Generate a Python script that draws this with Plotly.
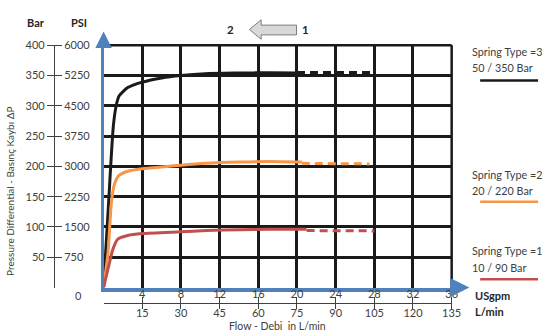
import plotly.graph_objects as go

# ---------------- data ----------------
bar_ticks = [50, 100, 150, 200, 250, 300, 350, 400]
psi_ticks = ["750", "1500", "2250", "3000", "3750", "4500", "5250", "6000"]
gpm_ticks = [4, 8, 12, 16, 20, 24, 28, 32, 36]
lmin_ticks = [15, 30, 45, 60, 75, 90, 105, 120, 135]

# Spring type 3 (50 / 350 bar) - black
s3_flow = [0, 0.5, 1.0, 1.3, 1.6, 2.5, 4, 6, 8, 10.5, 14, 17, 20]
s3_bar = [0, 135, 265, 300, 316, 330, 339, 346, 350, 353, 354, 354.5, 354]
s3_flow_d = [20, 24, 28]
s3_bar_d = [355, 355.5, 355]

# Spring type 2 (20 / 220 bar) - orange
s2_flow = [0, 0.46, 0.8, 1.13, 1.6, 2.5, 4, 8, 10.6, 14, 17, 20.5]
s2_bar = [0, 58, 139, 171, 185, 192, 196, 202, 205, 207, 208, 207]
s2_flow_d = [20.5, 24, 27.5]
s2_bar_d = [205, 204.5, 204]

# Spring type 1 (10 / 90 bar) - red
s1_flow = [0, 0.46, 0.96, 1.47, 2.5, 4, 8, 10.6, 14, 17, 21]
s1_bar = [0, 31, 63, 80, 86, 89, 92, 94, 95.5, 96, 96]
s1_flow_d = [21, 24.5, 28]
s1_bar_d = [94, 93.5, 93.5]

BLACK = "#1a1a1a"
ORANGE = "#f79646"
RED = "#c0504d"
BLUE = "#4f81bd"
TXT = "#404040"
FONT = "Lato"

W, H = 552, 336
def px(x):
    return x / W
def py(y):
    return 1 - y / H

fig = go.Figure()

for fx, fy, col in [(s3_flow, s3_bar, BLACK), (s2_flow, s2_bar, ORANGE), (s1_flow, s1_bar, RED)]:
    fig.add_trace(go.Scatter(x=fx, y=fy, mode="lines", line=dict(color=col, width=3, shape="spline", smoothing=0.6),
                             showlegend=False, hoverinfo="skip"))
for fx, fy, col in [(s3_flow_d, s3_bar_d, BLACK), (s2_flow_d, s2_bar_d, ORANGE), (s1_flow_d, s1_bar_d, RED)]:
    fig.add_trace(go.Scatter(x=fx, y=fy, mode="lines", line=dict(color=col, width=3, dash="8px,5px"),
                             showlegend=False, hoverinfo="skip"))

# dummy traces to activate secondary axes
fig.add_trace(go.Scatter(x=[None], y=[None], xaxis="x", yaxis="y2", showlegend=False, hoverinfo="skip"))
fig.add_trace(go.Scatter(x=[None], y=[None], xaxis="x", yaxis="y3", showlegend=False, hoverinfo="skip"))
fig.add_trace(go.Scatter(x=[None], y=[None], xaxis="x2", yaxis="y", showlegend=False, hoverinfo="skip"))
fig.add_trace(go.Scatter(x=[None], y=[None], xaxis="x3", yaxis="y", showlegend=False, hoverinfo="skip"))

xdom = [px(105.5), px(460)]
ydom = [py(286.5), py(39)]
tickfont = dict(family=FONT, size=11, color=TXT)

fig.update_layout(
    width=W, height=H, margin=dict(l=0, r=0, t=0, b=0),
    paper_bgcolor="white", plot_bgcolor="white",
    font=dict(family=FONT, color=TXT, size=11),
    xaxis=dict(domain=xdom, range=[0, 36], tickvals=gpm_ticks, showticklabels=False, ticks="",
               showgrid=True, gridcolor=BLACK, gridwidth=2.5, zeroline=False,
               showline=True, linecolor=BLUE, linewidth=3.5),
    yaxis=dict(domain=ydom, range=[0, 400], tickvals=bar_ticks, showticklabels=False, ticks="",
               showgrid=True, gridcolor=BLACK, gridwidth=2.5, zeroline=False,
               showline=True, linecolor=BLUE, linewidth=3),
    yaxis2=dict(overlaying="y", anchor="free", position=px(55), side="left", range=[0, 400],
                tickvals=bar_ticks, ticks="outside", ticklen=7, tickwidth=1, tickcolor=TXT,
                showline=True, linecolor=TXT, linewidth=1.2, showgrid=False, zeroline=False, tickfont=tickfont),
    yaxis3=dict(overlaying="y", anchor="free", position=px(55), side="right", range=[0, 400],
                tickvals=bar_ticks, ticktext=psi_ticks, ticks="outside", ticklen=7, tickwidth=1, tickcolor=TXT,
                showline=False, showgrid=False, zeroline=False, tickfont=tickfont),
    xaxis2=dict(overlaying="x", anchor="free", position=py(302), side="bottom", domain=xdom, range=[0, 135],
                tickvals=lmin_ticks, ticks="outside", ticklen=5, tickwidth=1, tickcolor=TXT,
                ticklabelstandoff=-5,
                showline=True, linecolor=TXT, linewidth=1.2, showgrid=False, zeroline=False, tickfont=tickfont),
    xaxis3=dict(overlaying="x", anchor="free", position=py(302), side="top", domain=xdom, range=[0, 36],
                tickvals=gpm_ticks, ticks="outside", ticklen=6, tickwidth=1, tickcolor=TXT,
                ticklabelstandoff=-6,
                showline=False, showgrid=False, zeroline=False, tickfont=tickfont),
)

shapes = [
    # top and right plot borders
    dict(type="line", xref="x domain", yref="y domain", x0=0, x1=1, y0=1, y1=1, line=dict(color=BLACK, width=2.5)),
    dict(type="line", xref="x domain", yref="y domain", x0=1, x1=1, y0=0, y1=1, line=dict(color=BLACK, width=2.5)),
    # legend lines
    dict(type="line", xref="paper", yref="paper", x0=px(489), x1=px(548), y0=py(75), y1=py(75), line=dict(color=BLACK, width=2.5)),
    dict(type="line", xref="paper", yref="paper", x0=px(489), x1=px(548), y0=py(199), y1=py(199), line=dict(color=ORANGE, width=2.5)),
    dict(type="line", xref="paper", yref="paper", x0=px(489), x1=px(548), y0=py(278), y1=py(278), line=dict(color=RED, width=2.5)),
]
# block arrow (1 -> 2)
pts = [(254, 23), (266, 13), (266, 18.5), (302, 18.5), (302, 28.5), (266, 28.5), (266, 33)]
path = "M " + " L ".join(f"{px(a):.5f},{py(b):.5f}" for a, b in pts) + " Z"
shapes.append(dict(type="path", xref="paper", yref="paper", path=path, fillcolor="#d9d9d9",
                   line=dict(color="#7f7f7f", width=1)))
fig.update_layout(shapes=shapes)

ann = []
def text(x, y, s, size=11, bold=False, xanchor="center", color=TXT, angle=0):
    ann.append(dict(xref="paper", yref="paper", x=px(x), y=py(y), text=f"<b>{s}</b>" if bold else s,
                    showarrow=False, xanchor=xanchor, yanchor="middle", textangle=angle,
                    font=dict(family=FONT, size=size, color=color)))

text(37, 16, "Bar", bold=True, color="#262626")
text(80, 16, "PSI", bold=True, color="#262626")
text(80, 295, "0")
text(10, 188, "Pressure Differential - Basınç Kaybı ΔP", size=10, angle=-90)
text(283, 326, "Flow - Debi  in L/min", size=10.5)
text(482, 295, "USgpm", bold=True, xanchor="left", color="#262626")
text(482, 311, "L/min", bold=True, xanchor="left", color="#262626")
text(235, 23, "2", bold=True, size=11.5, color="#262626")
text(311, 23, "1", bold=True, size=11.5, color="#262626")
text(479, 45, "Spring Type =3", size=10.8, xanchor="left")
text(479, 62, "50 / 350 Bar", size=10.8, xanchor="left")
text(479, 171, "Spring Type =2", size=10.8, xanchor="left")
text(479, 187, "20 / 220 Bar", size=10.8, xanchor="left")
text(479, 249, "Spring Type =1", size=10.8, xanchor="left")
text(479, 266, "10 / 90 Bar", size=10.8, xanchor="left")

# blue axis arrows
ann.append(dict(xref="paper", yref="paper", x=px(105.5), y=py(25), ax=0, ay=16, text="", showarrow=True,
                arrowhead=2, arrowsize=1.1, arrowwidth=3, arrowcolor=BLUE, standoff=0))
ann.append(dict(xref="paper", yref="paper", x=px(478), y=py(286.5), ax=-20, ay=0, text="", showarrow=True,
                arrowhead=2, arrowsize=1.1, arrowwidth=3.5, arrowcolor=BLUE, standoff=0))
fig.update_layout(annotations=ann)

fig.write_html("out.html", config={"displayModeBar": False},
               post_script="document.body.style.margin='0';document.body.style.overflow='hidden';")
